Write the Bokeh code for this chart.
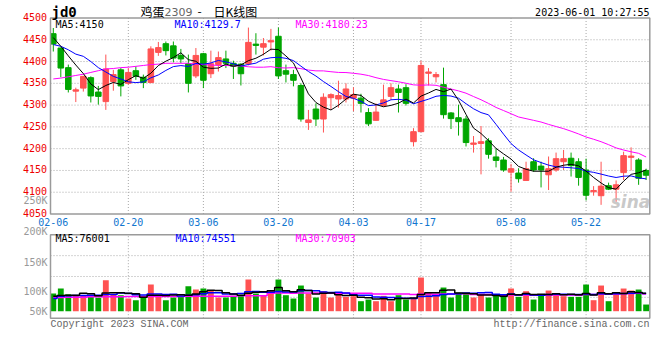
import numpy as np
import pandas as pd
from bokeh.plotting import figure
from bokeh.models import ColumnDataSource, Label, Range1d
from bokeh.embed import file_html
from bokeh.resources import INLINE

# ---------------- data ----------------
opens = [4464, 4431, 4386, 4332, 4339, 4363, 4330, 4308, 4354, 4381,
         4350, 4379, 4364, 4352, 4421, 4441, 4436, 4414, 4395, 4367,
         4418, 4372, 4393, 4406, 4396, 4394, 4395, 4440, 4433, 4445,
         4458, 4379, 4370, 4345, 4260, 4291, 4268, 4317, 4314, 4314,
         4316, 4316, 4283, 4265, 4299, 4320, 4337, 4340, 4216, 4239,
         4373, 4365, 4347, 4282, 4271, 4268, 4210, 4212, 4218, 4181,
         4174, 4146, 4144, 4127, 4170, 4160, 4140, 4151, 4170, 4178,
         4170, 4151, 4101, 4092, 4115, 4107, 4145, 4180, 4174, 4150]
closes = [4440, 4385, 4336, 4335, 4366, 4321, 4320, 4383, 4370, 4344,
          4375, 4366, 4352, 4429, 4432, 4425, 4408, 4406, 4350, 4414,
          4357, 4395, 4409, 4396, 4389, 4372, 4444, 4437, 4441, 4448,
          4367, 4371, 4357, 4268, 4266, 4268, 4318, 4324, 4322, 4337,
          4324, 4304, 4257, 4284, 4312, 4340, 4329, 4304, 4239, 4391,
          4376, 4370, 4278, 4269, 4262, 4214, 4213, 4216, 4187, 4173,
          4151, 4154, 4131, 4154, 4151, 4151, 4154, 4177, 4177, 4161,
          4134, 4093, 4104, 4114, 4107, 4117, 4184, 4183, 4132, 4139]
highs = [4477, 4432, 4393, 4340, 4367, 4366, 4344, 4416, 4381, 4385,
         4385, 4389, 4370, 4435, 4445, 4446, 4446, 4429, 4416, 4431,
         4420, 4425, 4423, 4425, 4402, 4396, 4478, 4465, 4454, 4475,
         4478, 4393, 4381, 4350, 4289, 4304, 4327, 4327, 4356, 4350,
         4341, 4326, 4293, 4304, 4347, 4350, 4347, 4348, 4247, 4402,
         4385, 4376, 4386, 4284, 4301, 4275, 4229, 4252, 4224, 4201,
         4181, 4165, 4155, 4170, 4178, 4170, 4182, 4191, 4197, 4191,
         4178, 4177, 4114, 4170, 4122, 4127, 4193, 4203, 4178, 4154]
lows = [4423, 4364, 4329, 4307, 4331, 4306, 4301, 4289, 4333, 4320,
        4347, 4358, 4339, 4350, 4413, 4414, 4398, 4396, 4329, 4362,
        4339, 4362, 4377, 4385, 4360, 4345, 4391, 4416, 4414, 4425,
        4360, 4352, 4343, 4262, 4243, 4252, 4237, 4289, 4294, 4306,
        4286, 4283, 4252, 4264, 4297, 4312, 4283, 4299, 4205, 4238,
        4345, 4352, 4269, 4245, 4230, 4205, 4191, 4141, 4177, 4157,
        4147, 4101, 4122, 4126, 4147, 4111, 4105, 4147, 4151, 4136,
        4115, 4081, 4092, 4071, 4105, 4078, 4128, 4150, 4117, 4128]
volumes = [74200, 95200, 71400, 67200, 67200, 63000, 56000, 130200, 70000, 67200,
           53200, 46200, 57400, 112000, 67200, 46200, 57400, 60200, 105000, 91000,
           95200, 86800, 57400, 57400, 64400, 67200, 133000, 74200, 67200, 88200,
           133000, 67200, 53200, 107800, 74200, 57400, 84000, 57400, 70000, 60200,
           63000, 42000, 49000, 42000, 64400, 42000, 67200, 49000, 53200, 141400,
           78400, 67200, 99400, 57400, 78400, 74200, 57400, 71400, 57400, 67200,
           63000, 95200, 60200, 84000, 49000, 70000, 86800, 74200, 63000, 60200,
           60200, 112000, 46200, 107800, 42000, 78400, 95200, 86800, 91000, 28000]

# moving-average values at the left edge (they depend on days before the chart)
ma5_head = [4455, 4435, 4413, 4392]
ma10_head = [4439, 4435, 4427, 4417, 4412, 4400, 4386, 4376, 4366]
ma30_head = [4360, 4362, 4365, 4368, 4371, 4375, 4379, 4383, 4384, 4386,
             4387, 4389, 4391, 4393, 4394, 4396, 4396, 4396, 4396, 4394,
             4393, 4392, 4391, 4391, 4390, 4390, 4388, 4387, 4387]
vma5_head = [63000, 65800, 67200, 67200]
vma10_head = [53200, 63000, 64400, 65800, 65800, 67200, 67200, 70000, 70000]
vma30_head = [57400, 57400, 58800, 58800, 58800, 60200, 60200, 60200, 60200, 60200,
              61600, 61600, 61600, 61600, 61600, 61600, 61600, 61600, 63000, 63000,
              63000, 63000, 63000, 63000, 63000, 64400, 64400, 64400, 64400]

date_tick_index = [0, 10, 20, 30, 40, 49, 61, 71]
date_tick_labels = ["02-06", "02-20", "03-06", "03-20", "04-03", "04-17", "05-08", "05-22"]
price_ticks = [4050, 4100, 4150, 4200, 4250, 4300, 4350, 4400, 4450, 4500]
vol_tick_labels = ["250K", "200K", "150K", "100K", "50K"]

title_code = "jd0"
title_name = "鸡蛋"
title_contract = "2309"
title_kind = "日K线图"
timestamp = "2023-06-01 10:27:55"
price_legend = ["MA5:4150", "MA10:4129.7", "MA30:4180.23"]
vol_legend = ["MA5:76001", "MA10:74551", "MA30:70903"]
copyright_text = "Copyright 2023 SINA.COM"
url_text = "http://finance.sina.com.cn"

# ---------------- derived ----------------
def moving_average(vals, n, head):
    s = pd.Series(vals, dtype=float).rolling(n).mean().to_numpy()
    s[:len(head)] = head
    return s

RED = "#ff5252"
GREEN = "#00a600"
o = np.array(opens, float)
c = np.array(closes, float)
idx = np.arange(len(c))
colors = np.where(c >= o, RED, GREEN)
src = ColumnDataSource(dict(
    x=idx, top=np.maximum(o, c), bottom=np.minimum(o, c),
    high=np.array(highs, float), low=np.array(lows, float),
    color=colors, vol=np.array(volumes, float),
    ma5=moving_average(closes, 5, ma5_head),
    ma10=moving_average(closes, 10, ma10_head),
    ma30=moving_average(closes, 30, ma30_head),
    vma5=moving_average(volumes, 5, vma5_head),
    vma10=moving_average(volumes, 10, vma10_head),
    vma30=moving_average(volumes, 30, vma30_head),
))

# ---------------- layout geometry (canvas pixels) ----------------
W, H = 652, 340
X0_PX, X_STEP = 52.8, 7.504            # centre of first candle, pixels per day
P_BASE_PX, P_SCALE = 213.5, 0.4356     # pixel row of 4050, pixels per price unit
V_BASE_PX, V_SCALE = 310.7, 1 / 4200   # pixel row of zero volume, pixels per lot
PANEL_L_PX, PANEL_R_PX = 50, 649.3
V_TOP_PX, V_BOT_PX = 234.3, 317.7

def x_of_px(px):
    return (px - X0_PX) / X_STEP

x_range = Range1d(x_of_px(0), x_of_px(W))
y_range = Range1d(price_ticks[0] - (H - P_BASE_PX) / P_SCALE,
                  price_ticks[0] + P_BASE_PX / P_SCALE)
v_range = Range1d(-(H - V_BASE_PX) / V_SCALE, V_BASE_PX / V_SCALE)

p = figure(width=W, height=H, x_range=x_range, y_range=y_range,
           output_backend="svg", toolbar_location=None,
           min_border=0, min_border_left=0, min_border_right=0,
           min_border_top=0, min_border_bottom=0)
p.extra_y_ranges = {"vol": v_range}
p.xaxis.visible = False
p.yaxis.visible = False
p.grid.visible = False
p.outline_line_color = None
p.background_fill_color = "white"
p.border_fill_color = "white"

MONO = "DejaVu Sans Mono"
GRID = "#a8a8a8"
BORDER = "#9a9a9a"
xl, xr = x_of_px(PANEL_L_PX), x_of_px(PANEL_R_PX)
p_lo, p_hi = price_ticks[0], price_ticks[-1]
v_lo = -(V_BOT_PX - V_BASE_PX) / V_SCALE
v_hi = (V_BASE_PX - V_TOP_PX) / V_SCALE

# grid lines of the price panel
inner_prices = price_ticks[1:-1]
p.segment(x0=[xl] * len(inner_prices), x1=[xr] * len(inner_prices),
          y0=inner_prices, y1=inner_prices, color=GRID, line_dash="1 2", line_width=1)
p.segment(x0=date_tick_index[1:], x1=date_tick_index[1:],
          y0=[p_lo] * (len(date_tick_index) - 1), y1=[p_hi] * (len(date_tick_index) - 1),
          color=GRID, line_dash="1 2", line_width=1)
# grid lines of the volume panel
v_grid = [v_lo + (v_hi - v_lo) * k / 4 for k in (1, 2, 3)]
p.segment(x0=[xl] * 3, x1=[xr] * 3, y0=v_grid, y1=v_grid, y_range_name="vol",
          color=GRID, line_dash="1 2", line_width=1)
p.segment(x0=date_tick_index[1:], x1=date_tick_index[1:],
          y0=[v_lo] * (len(date_tick_index) - 1), y1=[v_hi] * (len(date_tick_index) - 1),
          y_range_name="vol", color=GRID, line_dash="1 2", line_width=1)

# candles
p.segment(x0="x", x1="x", y0="low", y1="high", color="color", line_width=1, source=src)
p.vbar(x="x", top="top", bottom="bottom", width=0.74, fill_color="color",
       line_color="color", line_width=1, source=src)
p.line("x", "ma30", color="#ff00ff", line_width=1, source=src)
p.line("x", "ma10", color="#0000ff", line_width=1, source=src)
p.line("x", "ma5", color="black", line_width=1, source=src)

# volume bars
p.vbar(x="x", top="vol", bottom=0, width=0.78, fill_color="color", line_color=None,
       source=src, y_range_name="vol")
p.step("x", "vma30", mode="center", color="#ff00ff", line_width=1.5, source=src, y_range_name="vol")
p.step("x", "vma10", mode="center", color="#0000ff", line_width=1.5, source=src, y_range_name="vol")
p.step("x", "vma5", mode="center", color="black", line_width=1.5, source=src, y_range_name="vol")

# panel borders
p.quad(left=[xl], right=[xr], bottom=[p_lo], top=[p_hi], fill_color=None,
       line_color=BORDER, line_width=1.5)
p.quad(left=[xl], right=[xr], bottom=[v_lo], top=[v_hi], fill_color=None,
       line_color=BORDER, line_width=1.5, y_range_name="vol")


def put(px, py, text, align="left", color="black", size=10, font=MONO,
        style="normal", alpha=1.0):
    p.add_layout(Label(x=px, y=H - py, x_units="screen", y_units="screen",
                       text=text, text_align=align, text_baseline="middle",
                       text_color=color, text_font_size=f"{size}px",
                       text_font=font, text_font_style=style, text_alpha=alpha))


# price axis labels
for t in price_ticks:
    p.add_layout(Label(x=46.5, x_units="screen", y=t, y_units="data", text=str(t),
                       text_align="right", text_baseline="middle", text_color="#ee0000",
                       text_font=MONO, text_font_size="10px", y_offset=1))
# date labels
for i, s in zip(date_tick_index, date_tick_labels):
    p.add_layout(Label(x=i, x_units="data", y=H - 221, y_units="screen", text=s,
                       text_align="center", text_baseline="middle", text_color="#1176cf",
                       text_font=MONO, text_font_size="10px"))

# watermark
put(630, 201, "sina", align="center", color="#bbbbbb", size=17,
    font="DejaVu Sans", style="bold italic", alpha=0.8)

# header
put(51, 11, title_code, size=14, style="bold")
put(140, 11, title_name, size=12, font="Noto Sans CJK SC")
put(164, 11.5, title_contract, color="#666666", size=11, font="DejaVu Sans")
put(197, 11, "-", size=12, font="Noto Sans CJK SC")
put(213, 11, title_kind, size=12, font="Noto Sans CJK SC")
put(649, 12, timestamp, align="right", size=10)

# price legend
put(55, 23.5, price_legend[0], color="black")
put(174, 23.5, price_legend[1], color="#0000ff")
put(295, 23.5, price_legend[2], color="#ff00ff")

# volume axis labels
for lbl, py in zip(vol_tick_labels, [200, 231, 261.7, 290.7, 310.7]):
    put(47, py, lbl, align="right", color="#999999")

# volume legend
put(55, 238, vol_legend[0], color="black")
put(175, 238, vol_legend[1], color="#0000ff")
put(295, 238, vol_legend[2], color="#ff00ff")

# footer
put(50, 323.5, copyright_text, color="#666666", font="Liberation Mono")
put(649, 323.5, url_text, align="right", color="#666666", font="Liberation Mono")

open("out.html", "w").write(file_html(p, INLINE))
